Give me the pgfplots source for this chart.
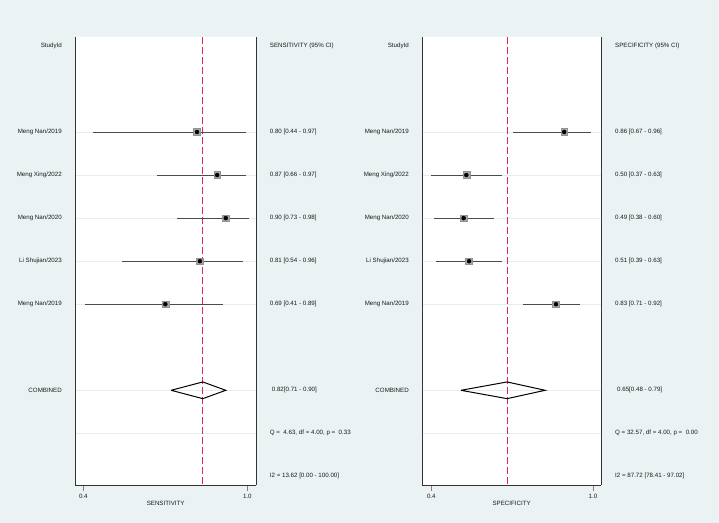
\documentclass[border=0pt]{standalone}
\usepackage{fontspec}
\setmainfont{Liberation Sans}
\usepackage{pgfplots}
\pgfplotsset{compat=1.18}
\usepackage{pgfplotstable}

\definecolor{bgc}{HTML}{EAF2F3}
\definecolor{gridc}{HTML}{E3EEF0}
\definecolor{refc}{RGB}{220,40,82}
\definecolor{txt}{HTML}{1A1A1A}
\newcommand\ff{\fontsize{6.2}{7.4}\selectfont}

% row est lo hi
\pgfplotstableread{
row est lo hi
2 0.80 0.44 0.97
3 0.87 0.66 0.97
4 0.90 0.73 0.98
5 0.81 0.54 0.96
6 0.69 0.41 0.89
}\sens
\pgfplotstableread{
row est lo hi
2 0.86 0.67 0.96
3 0.50 0.37 0.63
4 0.49 0.38 0.60
5 0.51 0.39 0.63
6 0.83 0.71 0.92
}\specdata

\tikzset{stat/.style={anchor=west, font=\ff, text=txt, inner sep=0pt}}
\pgfplotsset{
  forest/.style={
    scale only axis, height=447.7bp,
    y dir=reverse, ymin=-0.2, ymax=10.2,
    axis x line*=bottom, axis y line*=box,
    axis line style={draw=black!80, line width=0.9bp},
    axis background/.style={fill=white},
    clip=false,
    ytick={2,3,4,5,6,8,9},
    yticklabels={Meng Nan/2019, Meng Xing/2022, Meng Nan/2020, Li Shujian/2023, Meng Nan/2019, COMBINED, {}},
    extra y ticks={0}, extra y tick labels={StudyId}, extra y tick style={grid=none},
    ymajorgrids, major grid style={draw=gridc, line width=0.8bp},
    ytick style={draw=none},
    yticklabel style={xshift=-10bp},
    xtick align=outside, xtick style={draw=gray, line width=0.9bp},
    major tick length=6bp,
    ticklabel style={font=\ff, text=txt},
    label style={font=\ff, text=txt},
    xlabel style={at={(axis description cs:0.5,0)}, anchor=center, yshift=-18.7bp},
  },
  % pooled estimate: dashed red line over the full height
  pooled/.style={extra x ticks={#1}, extra x tick labels={},
    extra x tick style={grid=major, major tick length=0pt,
      major grid style={draw=refc, line width=1.2bp, dash pattern=on 7bp off 3bp}}},
  ci/.style={only marks, mark=square*, mark size=3.4bp,
    mark options={fill=gray!70, draw=gray!85},
    error bars/.cd, x dir=both, x explicit, error mark=none,
    error bar style={line width=1bp, draw=black!70}},
  dot/.style={only marks, mark=*, mark size=2bp, draw=black, fill=black},
  combined/.style={draw=black, line width=1bp},
}

\begin{document}
\begin{tikzpicture}
\fill[bgc] (0,0) rectangle (719bp,523bp);

% sensitivity
\begin{axis}[forest, pooled=0.82, at={(75.3bp,38bp)}, anchor=south west,
  width=180.7bp, xmin=0.377, xmax=1.005,
  xtick={0.4048,0.975}, xticklabels={0.4,1.0},
  xlabel={SENSITIVITY}]
\addplot[ci] table[x=est, y=row,
  x error plus expr=\thisrow{hi}-\thisrow{est},
  x error minus expr=\thisrow{est}-\thisrow{lo}] {\sens};
\addplot[dot] table[x=est, y=row] {\sens};
\addplot[combined] coordinates {(0.71,8) (0.82,7.806) (0.90,8) (0.82,8.194) (0.71,8)};
\node[stat] at (axis cs:1.0526,0) {SENSITIVITY (95\% CI)};
\node[stat] at (axis cs:1.0526,2) {0.80 [0.44 - 0.97]};
\node[stat] at (axis cs:1.0526,3) {0.87 [0.66 - 0.97]};
\node[stat] at (axis cs:1.0526,4) {0.90 [0.73 - 0.98]};
\node[stat] at (axis cs:1.0526,5) {0.81 [0.54 - 0.96]};
\node[stat] at (axis cs:1.0526,6) {0.69 [0.41 - 0.89]};
\node[stat] at (axis cs:1.0596,8) {0.82[0.71 - 0.90]};
\node[stat] at (axis cs:1.0526,9) {Q =\ \ 4.63, df = 4.00, p =\ \ 0.33};
\node[stat] at (axis cs:1.0526,10) {I2 = 13.62 [0.00 - 100.00]};
\end{axis}

% specificity
\begin{axis}[forest, pooled=0.65, at={(422.3bp,38bp)}, anchor=south west,
  width=178.7bp, xmin=0.338, xmax=0.9955,
  xtick={0.3711,0.966}, xticklabels={0.4,1.0},
  xlabel={SPECIFICITY}]
\addplot[ci] table[x=est, y=row,
  x error plus expr=\thisrow{hi}-\thisrow{est},
  x error minus expr=\thisrow{est}-\thisrow{lo}] {\specdata};
\addplot[dot] table[x=est, y=row] {\specdata};
\addplot[combined] coordinates {(0.48,8) (0.65,7.806) (0.79,8) (0.65,8.194) (0.48,8)};
\node[stat] at (axis cs:1.047,0) {SPECIFICITY (95\% CI)};
\node[stat] at (axis cs:1.047,2) {0.86 [0.67 - 0.96]};
\node[stat] at (axis cs:1.047,3) {0.50 [0.37 - 0.63]};
\node[stat] at (axis cs:1.047,4) {0.49 [0.38 - 0.60]};
\node[stat] at (axis cs:1.047,5) {0.51 [0.39 - 0.63]};
\node[stat] at (axis cs:1.047,6) {0.83 [0.71 - 0.92]};
\node[stat] at (axis cs:1.0544,8) {0.65[0.48 - 0.79]};
\node[stat] at (axis cs:1.047,9) {Q = 32.57, df = 4.00, p =\ \ 0.00};
\node[stat] at (axis cs:1.047,10) {I2 = 87.72 [78.41 - 97.02]};
\end{axis}
\end{tikzpicture}
\end{document}
